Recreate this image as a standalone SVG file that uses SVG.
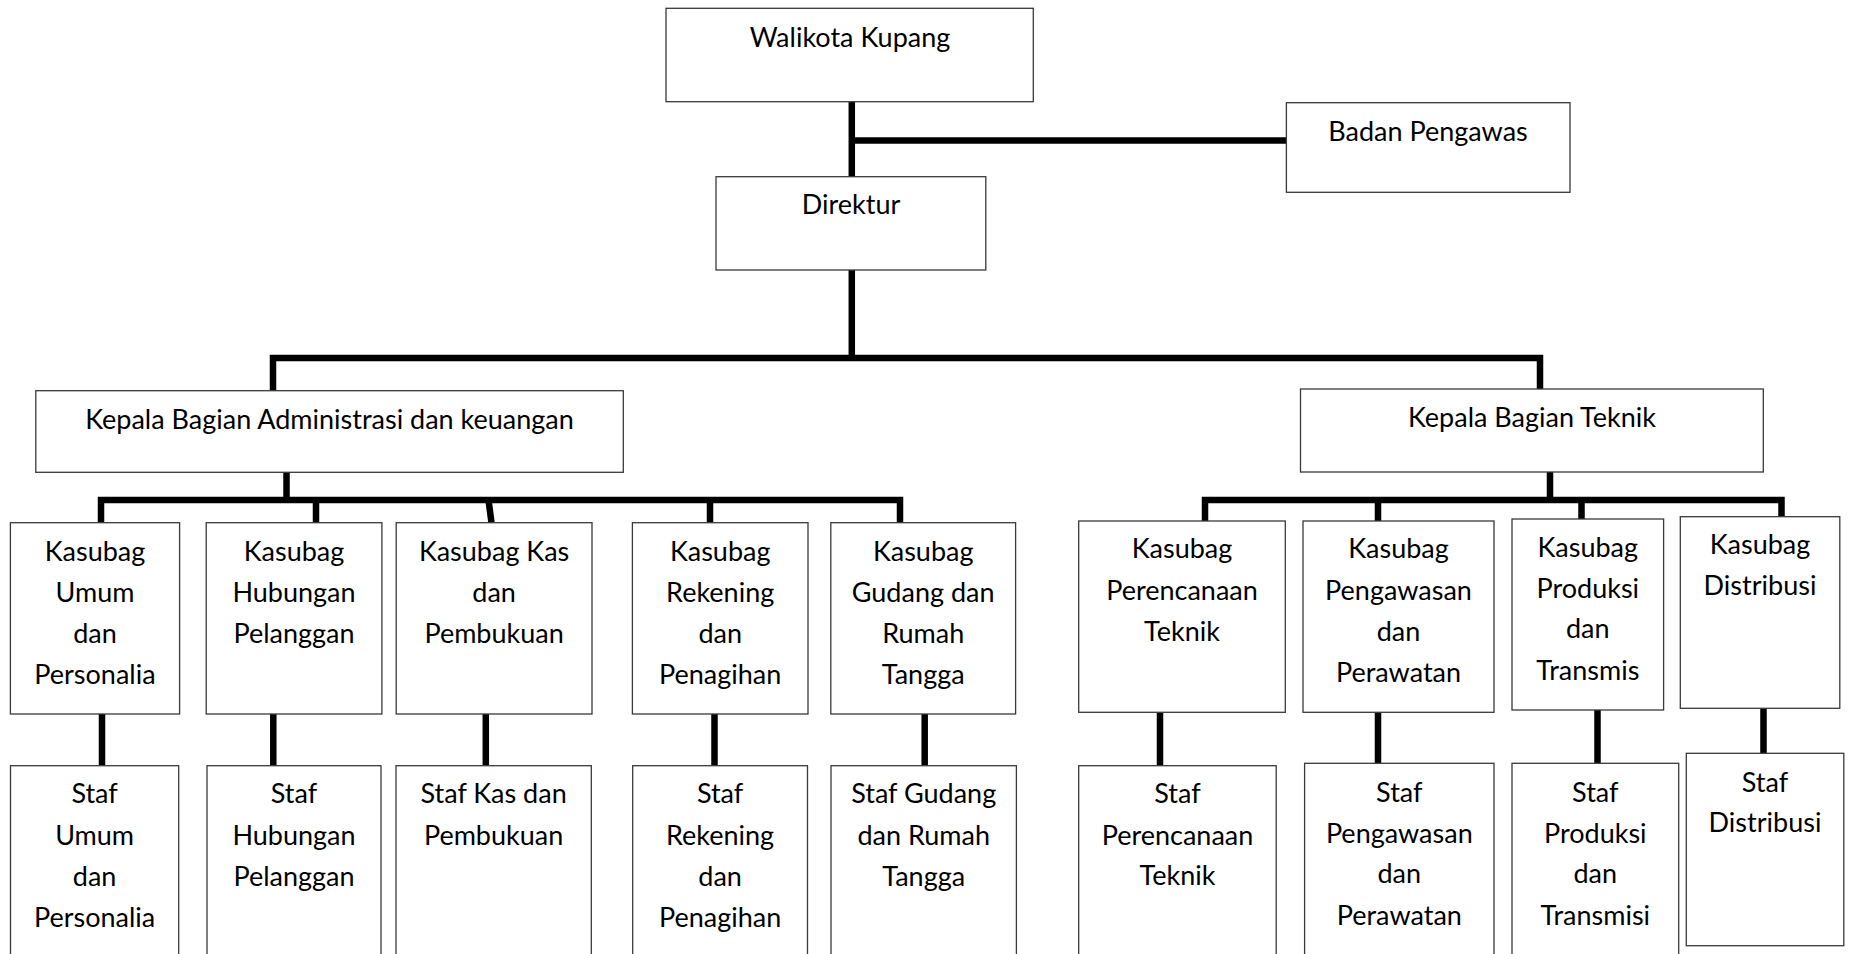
<svg xmlns="http://www.w3.org/2000/svg" width="1854" height="954" viewBox="0 0 1854 954">
<style>
.box{fill:#fff;stroke:#3a3a3a;stroke-width:1.3}
.t{font-family:Lato,"Liberation Sans",sans-serif;font-size:27px;text-anchor:middle;fill:#000}
.c{stroke:#000;stroke-width:6.5;fill:none;stroke-linejoin:miter}
</style>
<rect width="1854" height="954" fill="#fff"/>
<g id="connectors">
<path class="c" d="M851.8 101.7V358M851.8 140.5H1286.4"/>
<path class="c" d="M273 391V358H1540V389"/>
<path class="c" d="M286.5 472V500M101 522.7V500H900V522.7M316 500V522.7M488.5 500L491.5 522.7M710 500V522.7"/>
<path class="c" d="M1550 472V500M1205 521V500H1781.5V516.7M1378 500V521M1581.5 500V519"/>
<path class="c" d="M102 714V765.7M273.3 714V765.7M485.8 714V765.7M714.5 714V765.7M924.7 714V765.7"/>
<path class="c" d="M1160 712.3V765.7M1378 712.3V763.3M1597.5 710V763.3M1763.5 708.3V753.3"/>
</g>
<g id="walikota"><rect class="box" x="666" y="8.3" width="367.3" height="93.4"/><text class="t" x="850" y="46.7">Walikota Kupang</text></g>
<g id="badan-pengawas"><rect class="box" x="1286.4" y="102.7" width="283.6" height="89.6"/><text class="t" x="1428" y="140.7">Badan Pengawas</text></g>
<g id="direktur"><rect class="box" x="716" y="176.7" width="269.8" height="93.3"/><text class="t" x="851" y="214.3">Direktur</text></g>
<g id="kabag-adm"><rect class="box" x="35.8" y="390.7" width="587.5" height="81.6"/><text class="t" x="329.5" y="428.7">Kepala Bagian Administrasi dan keuangan</text></g>
<g id="kabag-teknik"><rect class="box" x="1300.5" y="389" width="462.8" height="83"/><text class="t" x="1532" y="427.3">Kepala Bagian Teknik</text></g>

<g id="kasubag-umum"><rect class="box" x="10.4" y="522.7" width="169.2" height="191.3"/><text class="t" x="95" y="561">Kasubag<tspan x="95" y="602">Umum</tspan><tspan x="95" y="643">dan</tspan><tspan x="95" y="684">Personalia</tspan></text></g>
<g id="kasubag-hubungan"><rect class="box" x="206.2" y="522.7" width="175.7" height="191.3"/><text class="t" x="294" y="561">Kasubag<tspan x="294" y="602">Hubungan</tspan><tspan x="294" y="643">Pelanggan</tspan></text></g>
<g id="kasubag-kas"><rect class="box" x="396.2" y="522.7" width="195.8" height="191.3"/><text class="t" x="494.1" y="561">Kasubag Kas<tspan x="494.1" y="602">dan</tspan><tspan x="494.1" y="643">Pembukuan</tspan></text></g>
<g id="kasubag-rekening"><rect class="box" x="632.4" y="522.7" width="175.6" height="191.3"/><text class="t" x="720.2" y="561">Kasubag<tspan x="720.2" y="602">Rekening</tspan><tspan x="720.2" y="643">dan</tspan><tspan x="720.2" y="684">Penagihan</tspan></text></g>
<g id="kasubag-gudang"><rect class="box" x="830.8" y="522.7" width="184.8" height="191.3"/><text class="t" x="923.2" y="561">Kasubag<tspan x="923.2" y="602">Gudang dan</tspan><tspan x="923.2" y="643">Rumah</tspan><tspan x="923.2" y="684">Tangga</tspan></text></g>

<g id="kasubag-perencanaan"><rect class="box" x="1078.7" y="521" width="206.6" height="191.3"/><text class="t" x="1182" y="558.3">Kasubag<tspan x="1182" y="600">Perencanaan</tspan><tspan x="1182" y="641">Teknik</tspan></text></g>
<g id="kasubag-pengawasan"><rect class="box" x="1303" y="521" width="191" height="191.3"/><text class="t" x="1398.5" y="558.3">Kasubag<tspan x="1398.5" y="600">Pengawasan</tspan><tspan x="1398.5" y="641">dan</tspan><tspan x="1398.5" y="682">Perawatan</tspan></text></g>
<g id="kasubag-produksi"><rect class="box" x="1512" y="519" width="151.6" height="191"/><text class="t" x="1587.8" y="556.7">Kasubag<tspan x="1587.8" y="597.7">Produksi</tspan><tspan x="1587.8" y="638.3">dan</tspan><tspan x="1587.8" y="680">Transmis</tspan></text></g>
<g id="kasubag-distribusi"><rect class="box" x="1680.3" y="516.7" width="159.5" height="191.6"/><text class="t" x="1760" y="554.3">Kasubag<tspan x="1760" y="595">Distribusi</tspan></text></g>

<g id="staf-umum"><rect class="box" x="10.5" y="765.7" width="168.2" height="200"/><text class="t" x="94.6" y="803.3">Staf<tspan x="94.6" y="845">Umum</tspan><tspan x="94.6" y="886">dan</tspan><tspan x="94.6" y="926.7">Personalia</tspan></text></g>
<g id="staf-hubungan"><rect class="box" x="207" y="765.7" width="174" height="200"/><text class="t" x="294" y="803.3">Staf<tspan x="294" y="845">Hubungan</tspan><tspan x="294" y="886">Pelanggan</tspan></text></g>
<g id="staf-kas"><rect class="box" x="396" y="765.7" width="195.3" height="200"/><text class="t" x="493.6" y="803.3">Staf Kas dan<tspan x="493.6" y="845">Pembukuan</tspan></text></g>
<g id="staf-rekening"><rect class="box" x="632.7" y="765.7" width="174.8" height="200"/><text class="t" x="720.1" y="803.3">Staf<tspan x="720.1" y="845">Rekening</tspan><tspan x="720.1" y="886">dan</tspan><tspan x="720.1" y="926.7">Penagihan</tspan></text></g>
<g id="staf-gudang"><rect class="box" x="831" y="765.7" width="185.4" height="200"/><text class="t" x="923.7" y="803.3">Staf Gudang<tspan x="923.7" y="845">dan Rumah</tspan><tspan x="923.7" y="886">Tangga</tspan></text></g>

<g id="staf-perencanaan"><rect class="box" x="1078.7" y="765.7" width="197.5" height="200"/><text class="t" x="1177.5" y="803.3">Staf<tspan x="1177.5" y="845">Perencanaan</tspan><tspan x="1177.5" y="885">Teknik</tspan></text></g>
<g id="staf-pengawasan"><rect class="box" x="1304.6" y="763.3" width="189.4" height="200"/><text class="t" x="1399.3" y="801.7">Staf<tspan x="1399.3" y="842.7">Pengawasan</tspan><tspan x="1399.3" y="883.3">dan</tspan><tspan x="1399.3" y="925">Perawatan</tspan></text></g>
<g id="staf-produksi"><rect class="box" x="1512" y="763.3" width="166.7" height="200"/><text class="t" x="1595.3" y="801.7">Staf<tspan x="1595.3" y="842.7">Produksi</tspan><tspan x="1595.3" y="883.3">dan</tspan><tspan x="1595.3" y="925">Transmisi</tspan></text></g>
<g id="staf-distribusi"><rect class="box" x="1686.3" y="753.3" width="157.5" height="192.4"/><text class="t" x="1765" y="791.7">Staf<tspan x="1765" y="831.7">Distribusi</tspan></text></g>
</svg>
